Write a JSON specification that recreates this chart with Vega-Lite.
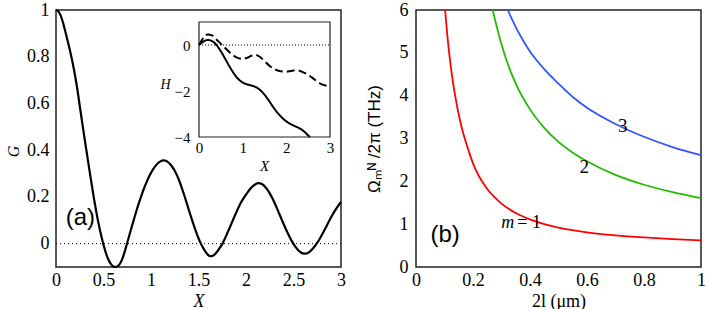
{
  "$schema": "https://vega.github.io/schema/vega-lite/v6.json",
  "padding": {"left": 4, "top": 0, "right": 0, "bottom": 0},
  "spacing": 75,
  "bounds": "flush",
  "config": {
    "font": "Liberation Serif",
    "view": {"stroke": "#222", "strokeWidth": 1.5},
    "axis": {"domain": false, "grid": false, "ticks": false, "labelFont": "Liberation Serif", "labelFontSize": 18, "labelColor": "black", "titleFont": "Liberation Serif", "titleColor": "black", "titleFontWeight": "normal", "zindex": 1, "labelBound": false, "labelOverlap": false, "labelFlush": false, "titleAlign": "center", "titleBaseline": "middle"},
    "text": {"font": "Liberation Serif", "color": "black"}
  },
  "hconcat": [
    {
      "width": 285, "height": 257,
      "layer": [
        {
          "data": {"values": [
            {"X":0,"G":1.000},{"X":0.025,"G":0.994},{"X":0.05,"G":0.976},{"X":0.075,"G":0.944},{"X":0.1,"G":0.905},{"X":0.125,"G":0.864},{"X":0.15,"G":0.821},{"X":0.175,"G":0.774},{"X":0.2,"G":0.721},{"X":0.225,"G":0.660},{"X":0.25,"G":0.590},{"X":0.275,"G":0.520},{"X":0.3,"G":0.452},{"X":0.325,"G":0.386},{"X":0.35,"G":0.320},{"X":0.375,"G":0.255},{"X":0.4,"G":0.192},{"X":0.425,"G":0.134},{"X":0.45,"G":0.082},{"X":0.475,"G":0.036},{"X":0.5,"G":-0.005},{"X":0.525,"G":-0.040},{"X":0.55,"G":-0.067},{"X":0.575,"G":-0.086},{"X":0.6,"G":-0.097},{"X":0.625,"G":-0.100},{"X":0.65,"G":-0.096},{"X":0.675,"G":-0.085},{"X":0.7,"G":-0.063},{"X":0.725,"G":-0.032},{"X":0.75,"G":0.004},{"X":0.775,"G":0.040},{"X":0.8,"G":0.076},{"X":0.825,"G":0.111},{"X":0.85,"G":0.145},{"X":0.875,"G":0.177},{"X":0.9,"G":0.207},{"X":0.925,"G":0.235},{"X":0.95,"G":0.260},{"X":0.975,"G":0.283},{"X":1.0,"G":0.303},{"X":1.025,"G":0.320},{"X":1.05,"G":0.334},{"X":1.075,"G":0.345},{"X":1.1,"G":0.352},{"X":1.125,"G":0.356},{"X":1.15,"G":0.355},{"X":1.175,"G":0.350},{"X":1.2,"G":0.341},{"X":1.225,"G":0.328},{"X":1.25,"G":0.312},{"X":1.275,"G":0.291},{"X":1.3,"G":0.266},{"X":1.325,"G":0.238},{"X":1.35,"G":0.207},{"X":1.375,"G":0.175},{"X":1.4,"G":0.142},{"X":1.425,"G":0.110},{"X":1.45,"G":0.079},{"X":1.475,"G":0.050},{"X":1.5,"G":0.023},{"X":1.525,"G":0.000},{"X":1.55,"G":-0.019},{"X":1.575,"G":-0.035},{"X":1.6,"G":-0.048},{"X":1.625,"G":-0.054},{"X":1.65,"G":-0.052},{"X":1.675,"G":-0.044},{"X":1.7,"G":-0.032},{"X":1.725,"G":-0.017},{"X":1.75,"G":-0.002},{"X":1.775,"G":0.019},{"X":1.8,"G":0.042},{"X":1.825,"G":0.065},{"X":1.85,"G":0.089},{"X":1.875,"G":0.113},{"X":1.9,"G":0.136},{"X":1.925,"G":0.158},{"X":1.95,"G":0.178},{"X":1.975,"G":0.195},{"X":2.0,"G":0.210},{"X":2.025,"G":0.224},{"X":2.05,"G":0.237},{"X":2.075,"G":0.247},{"X":2.1,"G":0.254},{"X":2.125,"G":0.259},{"X":2.15,"G":0.258},{"X":2.175,"G":0.253},{"X":2.2,"G":0.244},{"X":2.225,"G":0.231},{"X":2.25,"G":0.215},{"X":2.275,"G":0.196},{"X":2.3,"G":0.175},{"X":2.325,"G":0.152},{"X":2.35,"G":0.128},{"X":2.375,"G":0.104},{"X":2.4,"G":0.080},{"X":2.425,"G":0.057},{"X":2.45,"G":0.036},{"X":2.475,"G":0.016},{"X":2.5,"G":-0.001},{"X":2.525,"G":-0.016},{"X":2.55,"G":-0.028},{"X":2.575,"G":-0.037},{"X":2.6,"G":-0.042},{"X":2.625,"G":-0.043},{"X":2.65,"G":-0.040},{"X":2.675,"G":-0.033},{"X":2.7,"G":-0.023},{"X":2.725,"G":-0.010},{"X":2.75,"G":0.004},{"X":2.775,"G":0.020},{"X":2.8,"G":0.038},{"X":2.825,"G":0.057},{"X":2.85,"G":0.077},{"X":2.875,"G":0.097},{"X":2.9,"G":0.116},{"X":2.925,"G":0.134},{"X":2.95,"G":0.150},{"X":2.975,"G":0.165},{"X":3.0,"G":0.178}
          ]},
          "layer": [
            {
              "data": {"values": [{}]},
              "mark": {"type": "rule", "color": "black", "strokeWidth": 1, "strokeDash": [1, 3]},
              "encoding": {"y": {"datum": 0, "type": "quantitative", "axis": null}}
            },
            {
              "mark": {"type": "line", "color": "black", "strokeWidth": 2.2, "interpolate": "monotone"},
              "encoding": {
                "x": {"field": "X", "type": "quantitative", "scale": {"domain": [0, 3], "nice": false, "zero": false},
                  "axis": {"orient": "bottom", "values": [0, 0.5, 1, 1.5, 2, 2.5, 3], "format": "~g", "labelFont": "Liberation Serif", "labelPadding": 4, "title": "X", "titleFontStyle": "italic", "titleFontSize": 18, "titleX": 142.5, "titleY": 34}},
                "y": {"field": "G", "type": "quantitative", "scale": {"domain": [-0.1, 1], "nice": false, "zero": false},
                  "axis": {"orient": "left", "values": [0, 0.2, 0.4, 0.6, 0.8, 1], "format": "~g", "labelFont": "Liberation Serif", "labelPadding": 7, "title": "G", "titleFontStyle": "italic", "titleFontSize": 16, "titleX": -43, "titleY": 141}}
              }
            },
            {
              "data": {"values": [{}]},
              "mark": {"type": "text", "text": "(a)", "font": "Liberation Sans", "fontSize": 24, "align": "center", "baseline": "middle"},
              "encoding": {"x": {"datum": 0.256, "type": "quantitative", "axis": null}, "y": {"datum": 0.108, "type": "quantitative", "axis": null}}
            }
          ],
          "resolve": {"axis": {"x": "independent", "y": "independent"}}
        },
        {
          "data": {"values": [
            {"X":0,"H":0,"s":"solid"},{"X":0.1,"H":0.15,"s":"solid"},{"X":0.2,"H":0.22,"s":"solid"},{"X":0.3,"H":0.17,"s":"solid"},{"X":0.4,"H":0.0,"s":"solid"},{"X":0.5,"H":-0.27,"s":"solid"},{"X":0.6,"H":-0.60,"s":"solid"},{"X":0.7,"H":-0.94,"s":"solid"},{"X":0.8,"H":-1.24,"s":"solid"},{"X":0.9,"H":-1.48,"s":"solid"},{"X":1.0,"H":-1.63,"s":"solid"},{"X":1.1,"H":-1.71,"s":"solid"},{"X":1.2,"H":-1.76,"s":"solid"},{"X":1.3,"H":-1.83,"s":"solid"},{"X":1.4,"H":-1.96,"s":"solid"},{"X":1.5,"H":-2.16,"s":"solid"},{"X":1.6,"H":-2.42,"s":"solid"},{"X":1.7,"H":-2.70,"s":"solid"},{"X":1.8,"H":-2.95,"s":"solid"},{"X":1.9,"H":-3.16,"s":"solid"},{"X":2.0,"H":-3.32,"s":"solid"},{"X":2.1,"H":-3.44,"s":"solid"},{"X":2.2,"H":-3.53,"s":"solid"},{"X":2.3,"H":-3.62,"s":"solid"},{"X":2.4,"H":-3.75,"s":"solid"},{"X":2.5,"H":-3.93,"s":"solid"},{"X":2.54,"H":-4.0,"s":"solid"},
            {"X":0,"H":0,"s":"dashed"},{"X":0.1,"H":0.30,"s":"dashed"},{"X":0.2,"H":0.46,"s":"dashed"},{"X":0.3,"H":0.42,"s":"dashed"},{"X":0.4,"H":0.24,"s":"dashed"},{"X":0.5,"H":0.05,"s":"dashed"},{"X":0.6,"H":-0.13,"s":"dashed"},{"X":0.7,"H":-0.32,"s":"dashed"},{"X":0.8,"H":-0.47,"s":"dashed"},{"X":0.9,"H":-0.57,"s":"dashed"},{"X":1.0,"H":-0.60,"s":"dashed"},{"X":1.1,"H":-0.56,"s":"dashed"},{"X":1.2,"H":-0.47,"s":"dashed"},{"X":1.3,"H":-0.43,"s":"dashed"},{"X":1.4,"H":-0.52,"s":"dashed"},{"X":1.5,"H":-0.70,"s":"dashed"},{"X":1.6,"H":-0.88,"s":"dashed"},{"X":1.7,"H":-1.02,"s":"dashed"},{"X":1.8,"H":-1.11,"s":"dashed"},{"X":1.9,"H":-1.15,"s":"dashed"},{"X":2.0,"H":-1.16,"s":"dashed"},{"X":2.1,"H":-1.13,"s":"dashed"},{"X":2.2,"H":-1.10,"s":"dashed"},{"X":2.3,"H":-1.12,"s":"dashed"},{"X":2.4,"H":-1.20,"s":"dashed"},{"X":2.5,"H":-1.30,"s":"dashed"},{"X":2.6,"H":-1.43,"s":"dashed"},{"X":2.7,"H":-1.58,"s":"dashed"},{"X":2.8,"H":-1.70,"s":"dashed"},{"X":2.9,"H":-1.76,"s":"dashed"},{"X":3.0,"H":-1.78,"s":"dashed"}
          ]},
          "layer": [
            {
              "data": {"values": [{}]},
              "mark": {"type": "rect", "fill": "white", "stroke": "#222", "strokeWidth": 1.2},
              "encoding": {
                "x": {"datum": 0, "type": "quantitative", "scale": {"domain": [0, 3], "range": [143, 274], "nice": false, "zero": false}, "axis": null},
                "x2": {"datum": 3},
                "y": {"datum": -4, "type": "quantitative", "scale": {"domain": [-4, 1], "range": [127, 12], "nice": false, "zero": false}, "axis": null},
                "y2": {"datum": 1}
              }
            },
            {
              "data": {"values": [{}]},
              "mark": {"type": "rule", "color": "black", "strokeWidth": 1, "strokeDash": [1, 2]},
              "encoding": {
                "x": {"datum": 0, "type": "quantitative", "axis": null},
                "x2": {"datum": 3},
                "y": {"datum": 0, "type": "quantitative", "axis": null}
              }
            },
            {
              "mark": {"type": "line", "color": "black", "strokeWidth": 2, "interpolate": "monotone"},
              "encoding": {
                "x": {"field": "X", "type": "quantitative", "scale": {"domain": [0, 3], "range": [143, 274], "nice": false, "zero": false},
                  "axis": {"orient": "bottom", "offset": -130, "values": [0, 1, 2, 3], "format": "~g", "labelFont": "Liberation Serif", "labelPadding": 3, "labelFontSize": 15, "title": "X", "titleFontStyle": "italic", "titleFontSize": 15, "titleX": 208, "titleY": 28}},
                "y": {"field": "H", "type": "quantitative", "scale": {"domain": [-4, 1], "range": [127, 12], "nice": false, "zero": false},
                  "axis": {"orient": "left", "offset": -143, "values": [-4, -2, 0], "format": "~g", "labelFont": "Liberation Serif", "labelPadding": 9, "labelFontSize": 15, "title": "H", "titleAngle": 0, "titleFontStyle": "italic", "titleFontSize": 14, "titleX": -34, "titleY": 74}},
                "strokeDash": {"field": "s", "type": "nominal", "scale": {"domain": ["solid", "dashed"], "range": [[1, 0], [8, 4]]}, "legend": null}
              }
            }
          ],
          "resolve": {"axis": {"x": "independent", "y": "independent"}}
        }
      ],
      "resolve": {"scale": {"x": "independent", "y": "independent"}}
    },
    {
      "width": 285, "height": 257,
      "data": {"values": [
        {"L":0.102,"f":6.0,"m":"1"},{"L":0.11,"f":5.40,"m":"1"},{"L":0.12,"f":4.79,"m":"1"},{"L":0.13,"f":4.30,"m":"1"},{"L":0.14,"f":3.90,"m":"1"},{"L":0.15,"f":3.56,"m":"1"},{"L":0.16,"f":3.27,"m":"1"},{"L":0.18,"f":2.81,"m":"1"},{"L":0.2,"f":2.42,"m":"1"},{"L":0.22,"f":2.13,"m":"1"},{"L":0.25,"f":1.82,"m":"1"},{"L":0.3,"f":1.48,"m":"1"},{"L":0.35,"f":1.26,"m":"1"},{"L":0.4,"f":1.11,"m":"1"},{"L":0.45,"f":1.00,"m":"1"},{"L":0.5,"f":0.92,"m":"1"},{"L":0.6,"f":0.81,"m":"1"},{"L":0.7,"f":0.74,"m":"1"},{"L":0.8,"f":0.69,"m":"1"},{"L":0.9,"f":0.65,"m":"1"},{"L":1.0,"f":0.62,"m":"1"},
        {"L":0.269,"f":6.0,"m":"2"},{"L":0.28,"f":5.70,"m":"2"},{"L":0.3,"f":5.20,"m":"2"},{"L":0.32,"f":4.78,"m":"2"},{"L":0.35,"f":4.28,"m":"2"},{"L":0.4,"f":3.68,"m":"2"},{"L":0.45,"f":3.25,"m":"2"},{"L":0.5,"f":2.92,"m":"2"},{"L":0.55,"f":2.67,"m":"2"},{"L":0.6,"f":2.47,"m":"2"},{"L":0.7,"f":2.15,"m":"2"},{"L":0.8,"f":1.92,"m":"2"},{"L":0.9,"f":1.75,"m":"2"},{"L":1.0,"f":1.61,"m":"2"},
        {"L":0.322,"f":6.0,"m":"3"},{"L":0.34,"f":5.74,"m":"3"},{"L":0.36,"f":5.47,"m":"3"},{"L":0.38,"f":5.24,"m":"3"},{"L":0.4,"f":5.03,"m":"3"},{"L":0.45,"f":4.62,"m":"3"},{"L":0.5,"f":4.28,"m":"3"},{"L":0.55,"f":3.97,"m":"3"},{"L":0.6,"f":3.72,"m":"3"},{"L":0.7,"f":3.34,"m":"3"},{"L":0.8,"f":3.04,"m":"3"},{"L":0.9,"f":2.80,"m":"3"},{"L":1.0,"f":2.61,"m":"3"}
      ]},
      "layer": [
        {
          "mark": {"type": "line", "strokeWidth": 1.8, "interpolate": "monotone"},
          "encoding": {
            "x": {"field": "L", "type": "quantitative", "scale": {"domain": [0, 1], "nice": false, "zero": false},
              "axis": {"orient": "bottom", "values": [0, 0.2, 0.4, 0.6, 0.8, 1], "format": "~g", "labelFont": "Liberation Serif", "labelPadding": 4, "title": "2l (μm)", "titleFontSize": 18, "titleX": 142.5, "titleY": 34}},
            "y": {"field": "f", "type": "quantitative", "scale": {"domain": [0, 6], "nice": false, "zero": false},
              "axis": {"orient": "left", "values": [0, 1, 2, 3, 4, 5, 6], "format": "~g", "labelFont": "Liberation Serif", "labelPadding": 8, "title": "Ωₘᴺ /2π (THz)", "titleFont": "Liberation Sans", "titleFontSize": 17, "titleX": -42, "titleY": 128.5}},
            "color": {"field": "m", "type": "nominal", "scale": {"domain": ["1", "2", "3"], "range": ["#ff0000", "#22bb00", "#3355ff"]}, "legend": null}
          }
        },
        {
          "data": {"values": [{}]},
          "layer": [
            {"mark": {"type": "text", "text": "3", "fontSize": 19, "align": "center", "baseline": "middle"}, "encoding": {"x": {"datum": 0.725, "type": "quantitative", "axis": null}, "y": {"datum": 3.3, "type": "quantitative", "axis": null}}},
            {"mark": {"type": "text", "text": "2", "fontSize": 19, "align": "center", "baseline": "middle"}, "encoding": {"x": {"datum": 0.59, "type": "quantitative", "axis": null}, "y": {"datum": 2.33, "type": "quantitative", "axis": null}}},
            {"mark": {"type": "text", "text": "m", "fontSize": 18, "fontStyle": "italic", "align": "center", "baseline": "middle"}, "encoding": {"x": {"datum": 0.322, "type": "quantitative", "axis": null}, "y": {"datum": 1.03, "type": "quantitative", "axis": null}}},
            {"mark": {"type": "text", "text": "= 1", "fontSize": 18, "align": "center", "baseline": "middle"}, "encoding": {"x": {"datum": 0.397, "type": "quantitative", "axis": null}, "y": {"datum": 1.03, "type": "quantitative", "axis": null}}},
            {"mark": {"type": "text", "text": "(b)", "font": "Liberation Sans", "fontSize": 24, "align": "center", "baseline": "middle"}, "encoding": {"x": {"datum": 0.102, "type": "quantitative", "axis": null}, "y": {"datum": 0.74, "type": "quantitative", "axis": null}}}
          ]
        }
      ],
      "resolve": {"axis": {"x": "independent", "y": "independent"}}
    }
  ]
}
